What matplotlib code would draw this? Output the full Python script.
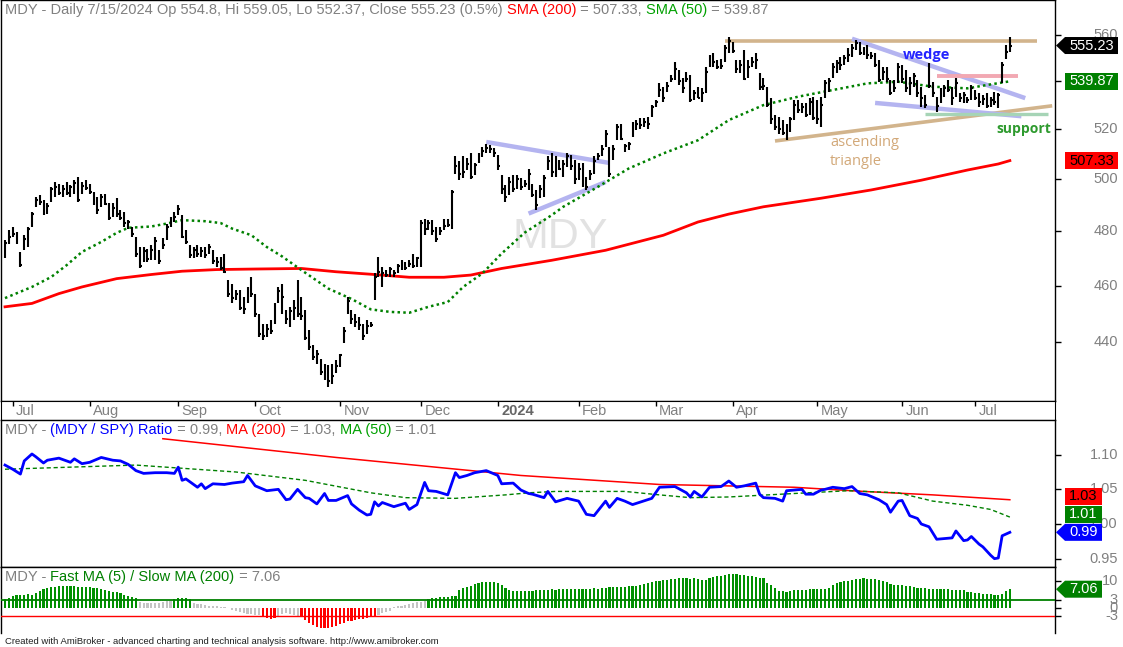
import matplotlib
matplotlib.use("Agg")
import matplotlib.pyplot as plt
import matplotlib.transforms as mtrans
from matplotlib.patches import Polygon
from matplotlib.ticker import NullLocator
import numpy as np
import pandas as pd

plt.rcParams['font.family'] = ['Liberation Sans', 'DejaVu Sans']

# --------------------------------------------------------------
# Data (MDY daily 2023-06-29 .. 2024-07-15)
# --------------------------------------------------------------
holidays = ["2023-07-04", "2023-09-04", "2023-11-23", "2023-12-25", "2024-01-01",
            "2024-01-15", "2024-02-19", "2024-03-29", "2024-05-27", "2024-06-19",
            "2024-07-04"]
dates = pd.bdate_range("2023-06-29", "2024-07-15")
dates = dates[~dates.isin(pd.to_datetime(holidays))]

high = [
    476.6, 480.4, 481.6, 479.8, 472.3, 478.6, 481.6, 487.4, 493.1, 493.7,
    491.8, 490.6, 497.0, 498.9, 498.3, 497.6, 498.9, 497.6, 499.6, 500.9,
    498.9, 499.6, 498.3, 495.0, 493.1, 494.4, 494.4, 490.6, 490.6, 492.5,
    488.0, 487.4, 484.2, 481.6, 477.9, 474.1, 474.1, 473.5, 474.8, 477.9,
    472.9, 477.3, 482.9, 485.4, 487.4, 489.9, 486.1, 480.4, 474.8, 474.1,
    474.8, 474.1, 474.1, 475.4, 472.9, 470.5, 470.5, 471.7, 461.9, 460.7,
    458.3, 458.3, 455.9, 459.5, 463.1, 457.1, 450.0, 446.5, 446.5, 447.7,
    453.6, 459.5, 460.7, 451.2, 452.4, 454.7, 461.9, 455.9, 451.2, 444.2,
    439.0, 437.3, 434.4, 432.7, 432.1, 432.7, 433.8, 436.1, 445.3, 455.9,
    451.2, 450.0, 448.8, 446.5, 447.7, 447.1, 464.4, 470.5, 466.8, 465.6,
    466.8, 465.6, 468.0, 469.2, 468.6, 469.2, 471.7, 470.5, 484.2, 484.8,
    484.2, 484.2, 481.6, 481.6, 484.8, 484.8, 495.7, 509.1, 507.2, 509.1,
    508.5, 510.2, 506.5, 510.2, 512.8, 514.1, 513.5, 512.2, 509.5, 501.6,
    497.6, 500.9, 501.6, 501.6, 500.3, 499.6, 504.2, 498.0, 495.7, 497.6,
    501.6, 509.0, 510.2, 509.0, 507.5, 507.5, 510.2, 509.5, 507.5, 506.2,
    506.2, 500.9, 503.6, 509.0, 510.2, 513.5, 519.5, 512.8, 513.5, 522.3,
    522.3, 514.1, 514.8, 523.0, 523.7, 524.4, 524.4, 525.0, 529.9, 532.0,
    539.0, 537.6, 539.7, 542.5, 548.2, 544.6, 541.1, 543.9, 542.5, 536.2,
    537.6, 536.9, 546.0, 551.1, 551.8, 548.9, 549.6, 555.4, 559.1, 556.9,
    548.9, 548.9, 553.3, 548.9, 550.4, 551.8, 543.2, 541.1, 537.6, 532.7,
    525.8, 525.0, 523.7, 522.3, 525.0, 532.0, 532.0, 530.6, 530.6, 532.7,
    533.4, 532.0, 533.4, 540.4, 541.1, 547.5, 548.9, 550.4, 551.1, 554.0,
    556.1, 557.6, 556.9, 554.7, 555.4, 552.5, 551.8, 548.9, 546.0, 546.0,
    540.4, 540.4, 547.5, 546.7, 544.6, 541.8, 543.2, 540.4, 537.6, 534.1,
    547.5, 539.7, 533.4, 536.9, 538.3, 540.4, 537.6, 541.1, 534.8, 535.5,
    533.4, 538.3, 536.2, 534.8, 534.1, 534.8, 533.4, 535.5, 534.8, 548.2,
    555.4, 559.05,
]
low = [
    469.9, 475.4, 477.9, 475.4, 466.8, 472.9, 474.1, 481.6, 489.3, 490.0,
    486.0, 486.7, 491.2, 493.1, 493.7, 493.1, 493.7, 493.1, 494.4, 491.2,
    494.4, 495.7, 494.4, 490.0, 486.7, 489.3, 490.0, 484.2, 485.4, 485.4,
    484.2, 481.6, 481.0, 477.9, 470.5, 466.2, 468.6, 468.6, 469.2, 469.2,
    468.0, 473.5, 476.6, 481.6, 483.5, 486.1, 477.3, 475.4, 469.9, 469.9,
    470.5, 470.5, 469.9, 471.7, 468.0, 466.8, 465.6, 464.4, 455.9, 453.6,
    454.7, 451.2, 450.0, 453.6, 455.9, 448.8, 441.9, 440.7, 441.9, 443.0,
    446.5, 453.6, 450.0, 446.5, 445.3, 447.7, 448.8, 447.7, 440.7, 437.3,
    433.8, 432.7, 428.8, 427.1, 424.9, 426.0, 429.4, 431.6, 439.6, 450.0,
    446.5, 445.3, 444.2, 440.7, 443.0, 445.3, 454.7, 463.1, 459.5, 463.1,
    463.1, 463.1, 464.4, 465.6, 465.6, 466.8, 466.2, 466.8, 466.8, 478.6,
    480.4, 478.6, 476.0, 478.6, 480.4, 481.6, 481.0, 502.2, 499.6, 500.3,
    503.6, 500.0, 501.8, 506.2, 508.9, 510.2, 510.2, 508.9, 503.6, 494.4,
    491.2, 493.7, 495.0, 496.3, 495.7, 497.0, 495.7, 493.0, 488.0, 492.5,
    493.0, 503.6, 501.0, 501.0, 503.6, 501.0, 504.9, 503.6, 498.3, 499.6,
    497.0, 495.7, 499.6, 502.2, 507.5, 509.0, 512.8, 501.0, 507.5, 515.5,
    515.5, 510.9, 511.5, 516.9, 519.5, 520.2, 520.9, 520.2, 525.0, 529.2,
    533.4, 531.3, 535.5, 539.7, 540.4, 538.3, 534.8, 539.7, 531.3, 532.0,
    532.7, 531.3, 534.8, 546.0, 546.0, 545.3, 545.3, 548.2, 551.8, 551.8,
    543.2, 543.2, 540.4, 541.1, 546.0, 545.3, 536.2, 536.2, 529.2, 522.3,
    519.5, 518.2, 517.5, 515.5, 518.9, 523.7, 526.5, 526.5, 525.1, 525.8,
    523.7, 522.0, 520.9, 532.7, 535.5, 541.1, 543.2, 544.6, 546.7, 548.2,
    550.4, 553.3, 551.1, 551.1, 549.6, 549.6, 546.0, 539.7, 540.4, 539.7,
    534.1, 535.5, 539.0, 539.0, 535.5, 534.1, 537.6, 533.4, 529.2, 528.5,
    536.9, 533.4, 527.2, 530.6, 533.4, 535.5, 529.9, 533.4, 531.3, 530.6,
    530.6, 532.0, 532.0, 529.2, 530.0, 528.5, 529.2, 530.0, 528.5, 539.0,
    549.6, 552.37,
]
close = [
    475.5, 478.0, 479.0, 476.0, 467.5, 477.0, 481.0, 486.5, 492.0, 491.0,
    487.0, 489.5, 496.0, 497.0, 494.5, 496.0, 494.5, 497.0, 498.5, 492.0,
    497.5, 496.5, 495.0, 491.0, 488.0, 493.0, 490.5, 485.0, 489.0, 486.5,
    485.0, 483.0, 483.5, 479.0, 471.5, 467.0, 472.5, 469.5, 473.0, 476.5,
    469.0, 475.0, 481.5, 484.5, 485.5, 488.5, 478.0, 476.0, 471.0, 473.0,
    471.5, 472.5, 471.0, 474.0, 469.0, 468.5, 466.5, 465.0, 457.0, 455.5,
    457.0, 452.0, 451.5, 458.0, 457.0, 450.0, 443.0, 442.0, 444.5, 444.0,
    452.0, 458.0, 456.0, 448.0, 451.0, 452.0, 450.0, 449.0, 441.5, 438.5,
    435.0, 436.0, 430.0, 431.0, 427.0, 428.5, 432.0, 435.5, 444.0, 454.5,
    448.0, 447.0, 446.0, 442.0, 445.5, 446.0, 463.0, 465.0, 464.5, 464.0,
    466.0, 464.5, 467.0, 468.5, 466.5, 468.0, 467.0, 470.0, 483.0, 481.0,
    483.0, 480.0, 477.0, 480.0, 482.0, 482.5, 495.0, 505.0, 502.0, 503.0,
    506.0, 501.0, 505.5, 509.0, 511.0, 512.5, 512.0, 510.5, 505.0, 496.0,
    493.0, 499.0, 496.0, 500.0, 497.0, 498.0, 502.0, 494.0, 490.0, 496.0,
    500.5, 507.0, 503.0, 508.0, 504.0, 506.0, 509.0, 505.0, 500.0, 504.0,
    503.0, 497.0, 502.0, 507.0, 509.0, 512.0, 518.0, 502.0, 512.0, 521.0,
    516.0, 513.0, 514.0, 521.5, 522.0, 521.5, 523.0, 522.0, 529.0, 531.0,
    536.0, 533.0, 538.0, 541.0, 545.0, 540.0, 537.0, 541.0, 532.0, 535.0,
    533.0, 535.0, 544.0, 549.0, 548.0, 546.0, 546.5, 554.0, 557.0, 553.0,
    545.0, 547.0, 541.0, 546.0, 548.0, 549.0, 537.5, 538.0, 530.0, 524.0,
    521.0, 520.0, 518.5, 519.5, 524.0, 530.0, 528.0, 529.0, 526.0, 531.0,
    524.5, 524.0, 530.0, 539.0, 540.0, 546.0, 547.5, 547.0, 550.0, 551.0,
    554.0, 556.5, 552.0, 553.5, 551.0, 550.5, 547.0, 540.5, 544.0, 541.0,
    535.0, 537.0, 546.0, 541.0, 537.0, 539.0, 542.0, 535.0, 533.0, 530.0,
    538.0, 535.0, 529.5, 535.0, 537.0, 536.0, 533.0, 539.0, 533.0, 534.0,
    532.0, 537.0, 533.0, 531.0, 532.5, 529.5, 532.0, 531.0, 534.0, 547.0,
    552.5, 555.23,
]

# moving averages (vertices, bar index -> value)
sma200_x = [0, 7, 14, 20, 29, 38, 46, 55, 65, 77, 86, 95, 105, 114, 121, 129, 142,
            156, 171, 180, 188, 197, 212, 225, 238, 250, 258, 261]
sma200_y = [452.4, 453.6, 457.1, 459.5, 462.5, 464.0, 465.2, 465.8, 466.0, 466.2,
            465.0, 464.1, 463.0, 463.0, 463.8, 466.2, 469.2, 472.9, 478.5, 483.5,
            486.5, 489.3, 492.6, 495.8, 499.6, 503.6, 506.0, 507.33]
sma50_x = [0, 7, 12, 16, 20, 25, 29, 32, 38, 42, 46, 52, 56, 59, 64, 68, 72, 77, 84,
           90, 95, 100, 105, 110, 115, 119, 124, 129, 135, 142, 145, 154, 162, 171,
           180, 188, 197, 206, 215, 224, 232, 241, 250, 255, 261]
sma50_y = [455.5, 459.5, 463.1, 467.4, 472.3, 476.0, 479.4, 481.3, 481.8, 482.9,
           484.2, 483.8, 483.1, 481.0, 478.5, 474.1, 470.6, 465.6, 458.9, 455.2,
           451.5, 450.6, 450.3, 452.4, 454.1, 459.5, 464.4, 471.7, 479.5, 486.1,
           489.3, 497.0, 504.2, 510.2, 515.5, 523.7, 529.9, 533.4, 536.2, 539.0,
           539.7, 537.6, 536.9, 538.3, 539.87]

# hand drawn trend lines (bar index, price)
resist_x, resist_y = [187, 268], [557.3, 557.3]
asc_x, asc_y = [200, 272], [515.2, 529.6]
wedge_hi_x, wedge_hi_y = [220, 265], [558.2, 532.8]
wedge_lo_x, wedge_lo_y = [226, 264], [530.8, 525.3]
jan_hi_x, jan_hi_y = [125, 157], [514.8, 506.4]
jan_lo_x, jan_lo_y = [136, 156], [486.7, 498.9]
pink_x, pink_y = [242, 263], [542.3, 542.3]
supp_x, supp_y = [239, 271], [526.2, 526.2]

# MDY / SPY ratio
ratio_x = [0, 2, 4, 5, 7, 8, 10, 11, 14, 16, 17, 18, 20, 22, 25, 28, 30, 32, 34, 36,
           39, 42, 44, 45, 46, 47, 50, 51, 52, 54, 57, 59, 62, 63, 65, 68, 71, 73, 74,
           76, 78, 79, 81, 83, 84, 86, 89, 90, 92, 94, 95, 96, 97, 98, 101, 104, 105,
           107, 109, 110, 112, 115, 117, 118, 120, 122, 125, 128, 129, 132, 134, 136,
           137, 140, 141, 143, 146, 149, 151, 153, 156, 157, 159, 161, 163, 168, 170,
           174, 177, 178, 179, 181, 183, 186, 188, 190, 192, 195, 196, 197, 200, 202,
           203, 207, 208, 210, 212, 213, 215, 218, 220, 222, 224, 227, 229, 230, 232,
           233, 235, 237, 238, 240, 242, 246, 247, 249, 250, 251, 253, 254, 256, 257,
           258, 259, 261]
ratio_y = [1.085, 1.079, 1.072, 1.091, 1.101, 1.097, 1.088, 1.092, 1.095, 1.091,
           1.089, 1.094, 1.087, 1.089, 1.096, 1.092, 1.091, 1.086, 1.077, 1.073,
           1.074, 1.074, 1.073, 1.082, 1.063, 1.065, 1.053, 1.058, 1.051, 1.058,
           1.057, 1.059, 1.061, 1.070, 1.055, 1.048, 1.050, 1.035, 1.036, 1.050,
           1.038, 1.037, 1.029, 1.044, 1.034, 1.034, 1.041, 1.029, 1.020, 1.013,
           1.014, 1.032, 1.026, 1.031, 1.025, 1.030, 1.021, 1.028, 1.060, 1.048,
           1.047, 1.042, 1.074, 1.067, 1.070, 1.074, 1.077, 1.070, 1.058, 1.059,
           1.049, 1.044, 1.043, 1.038, 1.047, 1.032, 1.037, 1.033, 1.014, 1.012,
           1.033, 1.024, 1.037, 1.033, 1.028, 1.037, 1.053, 1.054, 1.045, 1.039,
           1.047, 1.039, 1.053, 1.054, 1.062, 1.053, 1.055, 1.059, 1.043, 1.038,
           1.037, 1.033, 1.048, 1.050, 1.043, 1.043, 1.049, 1.050, 1.053, 1.051,
           1.054, 1.044, 1.042, 1.035, 1.028, 1.017, 1.033, 1.034, 1.012, 1.008,
           1.000, 0.996, 0.978, 0.980, 0.990, 0.976, 0.977, 0.982, 0.971, 0.967,
           0.955, 0.950, 0.951, 0.983, 0.988]
rma200_x = [41, 86, 134, 170, 205, 223, 241, 261]
rma200_y = [1.123, 1.096, 1.070, 1.057, 1.053, 1.047, 1.042, 1.035]
rma50_x = [0, 34, 60, 78, 95, 104, 117, 130, 136, 143, 161, 170, 178, 188, 205, 219,
           232, 241, 250, 256, 261]
rma50_y = [1.079, 1.085, 1.075, 1.063, 1.045, 1.038, 1.037, 1.042, 1.045, 1.047,
           1.047, 1.042, 1.038, 1.039, 1.044, 1.048, 1.045, 1.033, 1.027, 1.021, 1.010]

# Fast MA(5) / Slow MA(200) oscillator, one value per bar
osc = [
    3.4, 3.6, 4.5, 4.8, 5.0, 5.0, 5.1, 5.0, 5.8, 6.3,
    7.0, 7.4, 7.8, 8.0, 8.1, 8.1, 8.2, 8.1, 8.1, 8.0,
    7.9, 7.9, 7.8, 7.6, 7.5, 7.3, 6.8, 6.5, 6.1, 6.0,
    5.8, 5.0, 4.6, 4.2, 3.6, 2.3, 1.8, 1.7, 1.7, 1.8,
    1.9, 2.4, 2.6, 2.8, 3.5, 3.8, 3.8, 3.6, 3.3, 1.8,
    1.6, 1.4, 1.1, 0.9, 0.8, 0.7, 0.5, 0.3, 0.0, -0.8,
    -1.3, -1.6, -1.9, -2.2, -2.4, -2.6, -2.8, -3.4, -3.8, -4.0,
    -3.6, -2.9, -2.2, -2.0, -2.3, -2.6, -2.9, -3.5, -4.5, -5.5,
    -6.3, -7.0, -7.4, -7.5, -7.5, -7.2, -6.8, -6.2, -5.5, -5.0,
    -4.8, -4.5, -4.3, -4.0, -3.8, -3.5, -3.2, -2.6, -2.0, -1.5,
    -1.0, 0.3, 0.6, 0.9, 1.2, 1.5, 1.8, 2.1, 2.4, 2.7,
    3.4, 3.6, 3.8, 4.0, 4.1, 4.2, 4.4, 4.6, 6.8, 7.5,
    8.0, 8.4, 9.1, 9.4, 9.6, 9.7, 9.8, 9.7, 9.5, 8.6,
    7.4, 6.8, 6.4, 6.2, 6.2, 6.3, 6.4, 6.5, 6.6, 6.7,
    6.8, 6.9, 7.0, 6.9, 7.0, 7.1, 7.2, 7.2, 7.1, 7.2,
    7.3, 7.2, 7.3, 7.4, 7.3, 7.4, 7.6, 7.8, 7.9, 8.0,
    7.9, 8.0, 8.1, 8.2, 8.4, 8.8, 9.2, 9.5, 9.8, 10.0,
    10.2, 10.4, 10.6, 10.8, 11.0, 11.1, 11.2, 11.1, 11.0, 11.1,
    10.8, 10.5, 10.6, 11.4, 11.7, 12.0, 12.2, 12.5, 12.7, 12.9,
    12.6, 12.5, 12.3, 12.1, 11.9, 11.6, 11.4, 11.2, 9.5, 8.6,
    7.6, 6.5, 6.2, 6.0, 6.4, 6.6, 6.8, 6.7, 6.9, 7.0,
    7.0, 7.1, 7.2, 7.3, 7.5, 8.8, 9.3, 9.7, 10.0, 10.2,
    10.5, 10.9, 11.0, 11.1, 11.0, 10.9, 10.8, 10.5, 10.2, 9.6,
    9.0, 8.6, 8.5, 8.5, 8.4, 8.3, 8.0, 7.6, 7.5, 7.4,
    7.3, 7.2, 7.2, 7.1, 7.1, 7.0, 6.9, 6.8, 6.8, 6.7,
    6.1, 6.0, 5.8, 5.6, 5.4, 5.3, 5.1, 5.0, 4.9, 5.1,
    6.3, 7.06,
]

price_ticks = [440, 460, 480, 500, 520, 540, 560]
ratio_ticks = [0.95, 1.00, 1.05, 1.10]
osc_ticks = [10, 3, 0, -3]

# --------------------------------------------------------------
# Layout helpers (pixel geometry of the 1123x647 AmiBroker window)
# --------------------------------------------------------------
W, H = 1123, 647
GRAY = '#808080'
GREEN = '#008000'
HDR = 10.5


def rect(x0, y0, x1, y1):
    return [x0 / W, 1 - y1 / H, (x1 - x0) / W, (y1 - y0) / H]


def px2i(px):
    return (px - 5) / 3.85


XL, XR = px2i(1), px2i(1055)

fig = plt.figure(figsize=(W / 100, H / 100), dpi=100, facecolor='white')
renderer = fig.canvas.get_renderer()


def text_w(s, size, weight='normal'):
    a = fig.text(0, 0, s + 'x', fontsize=size, weight=weight)
    b = fig.text(0, 0, 'x', fontsize=size, weight=weight)
    w = a.get_window_extent(renderer).width - b.get_window_extent(renderer).width
    a.remove()
    b.remove()
    return w


def header(x, y, parts, size=HDR):
    for s, c in parts:
        fig.text(x / W, 1 - y / H, s, color=c, fontsize=size, ha='left', va='center')
        x += text_w(s, size)


def style_panel(ax, ticks, labels, ylim):
    ax.set_xlim(XL, XR)
    ax.set_ylim(*ylim)
    ax.yaxis.tick_right()
    ax.set_yticks(ticks)
    ax.yaxis.set_minor_locator(NullLocator())
    ax.tick_params(axis='y', which='major', direction='out', length=4, width=1,
                   labelright=False, labelleft=False, left=False)
    ax.tick_params(axis='x', bottom=False, labelbottom=False)
    for sp in ax.spines.values():
        sp.set_linewidth(1)
        sp.set_color('black')
    tr = mtrans.blended_transform_factory(fig.transFigure, ax.transData)
    for t, lab in zip(ticks, labels):
        ax.text(1118 / W, t, lab, transform=tr, ha='right', va='center',
                fontsize=10.5, color=GRAY, clip_on=False)


def value_box(ydisp, label, fc, tc, right, arrow):
    h = 17
    top, bot = ydisp + h / 2, ydisp - h / 2
    pts = [(1065, top), (right, top), (right, bot), (1065, bot)]
    if arrow:
        pts.append((1056, ydisp))
    pts = np.array(pts) / [W, H]
    fig.add_artist(Polygon(pts, closed=True, transform=fig.transFigure,
                           facecolor=fc, edgecolor='none', zorder=5))
    fig.text((1065 + right) / 2 / W, ydisp / H, label, color=tc, fontsize=10.5,
             ha='center', va='center', zorder=6)


# --------------------------------------------------------------
# Price panel
# --------------------------------------------------------------
idx = np.arange(len(close))
ax = fig.add_axes(rect(1, 0, 1055, 401))
ax.set_yscale('log')
style_panel(ax, price_ticks, [str(t) for t in price_ticks], (420.2, 575.4))

ax.text(0.531, 0.41, 'MDY', transform=ax.transAxes, fontsize=31, color='#e2e2e2',
        ha='center', va='center', zorder=0)

ax.plot(resist_x, resist_y, color='#d2b48c', lw=2.6, solid_capstyle='butt', zorder=2)
ax.plot(asc_x, asc_y, color='#d2b48c', lw=2.6, solid_capstyle='butt', zorder=2)
for lx, ly in [(wedge_hi_x, wedge_hi_y), (wedge_lo_x, wedge_lo_y),
               (jan_hi_x, jan_hi_y), (jan_lo_x, jan_lo_y)]:
    ax.plot(lx, ly, color='#b4b4f0', lw=3.2, solid_capstyle='butt', zorder=2)
ax.plot(pink_x, pink_y, color='#f2a8b2', lw=2.8, solid_capstyle='butt', zorder=2)
ax.plot(supp_x, supp_y, color='#a6d4b6', lw=2.4, solid_capstyle='butt', zorder=2)

ax.plot(sma200_x, sma200_y, color='#ff0000', lw=2.0, zorder=3)
ax.plot(sma50_x, sma50_y, color=GREEN, lw=1.8, ls=(0, (1, 1.3)), zorder=3)

ax.vlines(idx, low, high, color='black', lw=1.5, zorder=4)
ax.hlines(close, idx, idx + 0.5, color='black', lw=1.5, zorder=4)

ann = ['Open Sans', 'DejaVu Sans']
ax.text(px2i(903), 551.0, 'wedge', color='#2424ff', fontsize=10.5, weight='bold',
        family=ann, ha='left', va='center', zorder=5)
ax.text(px2i(830), 514.4, 'ascending', color='#d2a878', fontsize=10.5,
        family=ann, ha='left', va='center', zorder=5)
ax.text(px2i(830), 506.9, 'triangle', color='#d2a878', fontsize=10.5,
        family=ann, ha='left', va='center', zorder=5)
ax.text(px2i(996), 520.0, 'support', color='#2e9a2e', fontsize=10, weight='bold',
        family=ann, ha='left', va='center', zorder=5)

# --------------------------------------------------------------
# Date strip
# --------------------------------------------------------------
axd = fig.add_axes(rect(1, 401, 1055, 420))
axd.set_xlim(XL, XR)
axd.set_ylim(0, 1)
axd.set_xticks([])
axd.set_yticks([])
month_first = pd.Series(np.arange(len(dates)), index=dates)
month_first = month_first.groupby([dates.year, dates.month]).min()
for (yr, mo), i in month_first.items():
    if yr == 2023 and mo == 6:
        continue
    axd.vlines(i, 0.72, 1.0, color='black', lw=1)
    if mo == 1:
        axd.text(i + 0.9, 0.45, str(yr), fontsize=10.5, weight='bold', color='#666666',
                 ha='left', va='center')
    else:
        axd.text(i + 0.9, 0.45, dates[i].strftime('%b'), fontsize=10.5, color=GRAY,
                 ha='left', va='center')

# --------------------------------------------------------------
# Ratio panel
# --------------------------------------------------------------
axr = fig.add_axes(rect(1, 420, 1055, 567))
style_panel(axr, ratio_ticks, ['%.2f' % t for t in ratio_ticks], (0.938, 1.150))
axr.plot(rma200_x, rma200_y, color='#ff0000', lw=1.1, zorder=2)
axr.plot(rma50_x, rma50_y, color=GREEN, lw=1.0, ls=(0, (3, 2)), zorder=2)
axr.plot(ratio_x, ratio_y, color='#0000ff', lw=2.0, zorder=3)

# --------------------------------------------------------------
# Oscillator panel
# --------------------------------------------------------------
axh = fig.add_axes(rect(1, 567, 1055, 633))
style_panel(axh, osc_ticks, [str(t) for t in osc_ticks], (-9.4, 15.4))
axh.spines['bottom'].set_visible(False)
colors = ['#009000' if v > 3 else ('#ff0000' if v < -3 else '#c4c4c4') for v in osc]
axh.bar(idx, osc, width=0.55, color=colors, linewidth=0, zorder=2)
axh.axhline(3, color=GREEN, lw=1.3, zorder=3)
axh.axhline(-3, color='#ff0000', lw=1.0, zorder=3)

# --------------------------------------------------------------
# Titles, value flags, footer
# --------------------------------------------------------------
header(5, 10, [("MDY - Daily 7/15/2024 Op 554.8, Hi 559.05, Lo 552.37, Close 555.23 (0.5%) ", GRAY),
               ("SMA (200)", '#ff0000'), (" = 507.33, ", GRAY),
               ("SMA (50)", '#00a000'), (" = 539.87", GRAY)])
header(5, 430, [("MDY - ", GRAY), ("(MDY / SPY) Ratio", '#0000ff'), (" = 0.99, ", GRAY),
                ("MA (200)", '#ff0000'), (" = 1.03, ", GRAY),
                ("MA (50)", '#00a000'), (" = 1.01", GRAY)])
header(5, 577, [("MDY - ", GRAY), ("Fast MA (5) / Slow MA (200)", GREEN),
                (" = 7.06", GRAY)])


def ydisp(a, v):
    return a.transData.transform((0, v))[1]


value_box(ydisp(ax, close[-1]), '555.23', 'black', 'white', 1118, True)
value_box(ydisp(ax, sma50_y[-1]), '539.87', GREEN, 'white', 1118, False)
value_box(ydisp(ax, sma200_y[-1]), '507.33', '#ff0000', 'black', 1118, False)

# ratio flags, stacked upward so they do not overlap
y_r = ydisp(axr, ratio_y[-1])
y_m50 = max(ydisp(axr, rma50_y[-1]), y_r + 18)
y_m200 = max(ydisp(axr, rma200_y[-1]), y_m50 + 18)
value_box(y_r, '0.99', '#0000ff', 'white', 1102, True)
value_box(y_m50, '1.01', GREEN, 'white', 1102, False)
value_box(y_m200, '1.03', '#ff0000', 'black', 1102, False)

value_box(ydisp(axh, osc[-1]), '7.06', GREEN, 'white', 1102, True)

fig.text(5 / W, 1 - 641 / H,
         "Created with AmiBroker - advanced charting and technical analysis software. "
         "http://www.amibroker.com",
         fontsize=6.8, color='#202020', family=['Liberation Sans Narrow', 'Liberation Sans'],
         ha='left', va='center')

fig.savefig('out.png', dpi=100, facecolor='white')
